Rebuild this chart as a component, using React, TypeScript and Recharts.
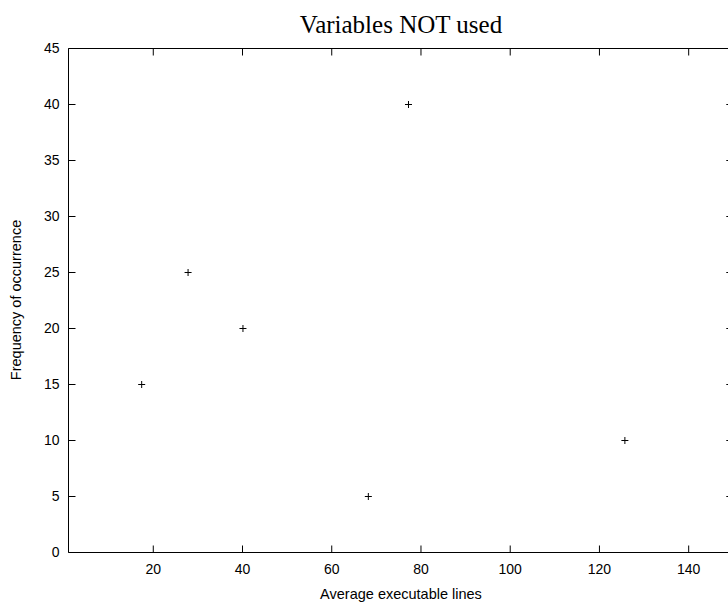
import React from 'react';
import { ScatterChart, Scatter, XAxis, YAxis, ReferenceLine } from 'recharts';

// average executable lines vs frequency of occurrence
const avgLines = [17.4, 27.8, 40.1, 68.2, 77.2, 125.7];
const frequency = [15, 25, 20, 5, 40, 10];

const xTicks = [20, 40, 60, 80, 100, 120, 140];
const yTicks = [0, 5, 10, 15, 20, 25, 30, 35, 40, 45];

const X_MIN = 1;
const X_MAX = 150;
const Y_MIN = 0;
const Y_MAX = 45;

const data = avgLines.map((x, i) => ({ x, y: frequency[i] }));

const SANS = '"Liberation Sans", Arial, sans-serif';
const SERIF = '"Liberation Serif", "Times New Roman", serif';

// inward gnuplot ticks, ~7px long, expressed in axis units
const X_TICK_LEN = 1.57;
const Y_TICK_LEN = 0.625;

const bottomTick = (props: any) => (
  <text x={props.x} y={props.y} dy="0.71em" textAnchor="middle" fontFamily={SANS} fontSize={14} fill="#000">
    {props.payload.value}
  </text>
);

const leftTick = (props: any) => (
  <text x={props.x} y={props.y} dy="0.355em" textAnchor="end" fontFamily={SANS} fontSize={14} fill="#000">
    {props.payload.value}
  </text>
);

const Plus = (props: any) => {
  const { cx, cy } = props;
  return <path d={`M${cx - 3.5},${cy}h7M${cx},${cy - 3.5}v7`} stroke="#000" strokeWidth={1} fill="none" />;
};

const black = { stroke: '#000', strokeWidth: 1 };

export default function App() {
  return (
    <div style={{ position: 'fixed', left: 0, top: 0, width: 728, height: 607, overflow: 'hidden', background: '#fff' }}>
      <svg width={728} height={607} style={{ position: 'absolute', left: 0, top: 0 }}>
        <text x={401} y={33} textAnchor="middle" fontFamily={SERIF} fontSize={25} fill="#000">
          Variables NOT used
        </text>
        <text x={401} y={599} textAnchor="middle" fontFamily={SANS} fontSize={14.5} fill="#000">
          Average executable lines
        </text>
        <text
          transform="translate(20.5,300) rotate(-90)"
          textAnchor="middle"
          fontFamily={SANS}
          fontSize={14.5}
          fill="#000"
        >
          Frequency of occurrence
        </text>
      </svg>
      <div style={{ position: 'absolute', left: 0, top: 0 }}>
        <ScatterChart width={800} height={607} margin={{ top: 0, right: 36.7, bottom: 0, left: 0 }}>
          <XAxis
            xAxisId="bottom"
            dataKey="x"
            type="number"
            domain={[X_MIN, X_MAX]}
            ticks={xTicks}
            height={54.5}
            tickSize={0}
            tickMargin={12}
            tick={bottomTick}
            axisLine={black}
            tickLine={false}
          />
          <XAxis
            xAxisId="top"
            orientation="top"
            type="number"
            domain={[X_MIN, X_MAX]}
            ticks={xTicks}
            height={48.5}
            tick={false}
            axisLine={black}
            tickLine={false}
          />
          <YAxis
            yAxisId="left"
            dataKey="y"
            type="number"
            domain={[Y_MIN, Y_MAX]}
            ticks={yTicks}
            width={68.5}
            tickSize={0}
            tickMargin={9}
            tick={leftTick}
            axisLine={black}
            tickLine={false}
          />
          <YAxis
            yAxisId="right"
            orientation="right"
            type="number"
            domain={[Y_MIN, Y_MAX]}
            ticks={yTicks}
            width={30}
            tick={false}
            axisLine={black}
            tickLine={false}
          />
          {xTicks.map((t) => (
            <ReferenceLine
              key={`b${t}`}
              xAxisId="bottom"
              yAxisId="left"
              segment={[{ x: t, y: Y_MIN }, { x: t, y: Y_MIN + Y_TICK_LEN }]}
              stroke="#000"
              strokeWidth={1}
              ifOverflow="visible"
            />
          ))}
          {xTicks.map((t) => (
            <ReferenceLine
              key={`t${t}`}
              xAxisId="bottom"
              yAxisId="left"
              segment={[{ x: t, y: Y_MAX }, { x: t, y: Y_MAX - Y_TICK_LEN }]}
              stroke="#000"
              strokeWidth={1}
              ifOverflow="visible"
            />
          ))}
          {yTicks.map((t) => (
            <ReferenceLine
              key={`l${t}`}
              xAxisId="bottom"
              yAxisId="left"
              segment={[{ x: X_MIN, y: t }, { x: X_MIN + X_TICK_LEN, y: t }]}
              stroke="#000"
              strokeWidth={1}
              ifOverflow="visible"
            />
          ))}
          {yTicks.map((t) => (
            <ReferenceLine
              key={`r${t}`}
              xAxisId="bottom"
              yAxisId="left"
              segment={[{ x: X_MAX, y: t }, { x: X_MAX - X_TICK_LEN, y: t }]}
              stroke="#000"
              strokeWidth={1}
              ifOverflow="visible"
            />
          ))}
          <Scatter
            data={data}
            xAxisId="bottom"
            yAxisId="left"
            shape={<Plus />}
            isAnimationActive={false}
          />
        </ScatterChart>
      </div>
    </div>
  );
}
